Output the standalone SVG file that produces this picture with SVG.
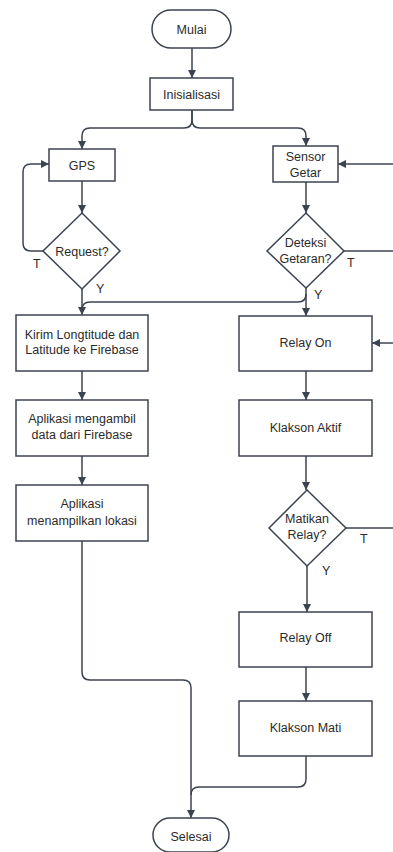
<svg xmlns="http://www.w3.org/2000/svg" width="393" height="852" viewBox="0 0 393 852">
<style>
.n{fill:#fff;stroke:#3c4350;stroke-width:1.5}
.c{fill:none;stroke:#3c4350;stroke-width:1.5}
text{font-family:"Liberation Sans",Arial,sans-serif;font-size:12.5px;fill:#2b2b2b;text-anchor:middle}
.l{text-anchor:start}
</style>
<defs>
<marker id="a" viewBox="0 0 10 10" refX="10" refY="5" markerWidth="8" markerHeight="8" markerUnits="userSpaceOnUse" orient="auto">
<path d="M0,0 L10,5 L0,10 Z" fill="#3c4350"/>
</marker>
</defs>
<rect width="393" height="852" fill="#fff"/>
<g id="connectors">
<path class="c" d="M192,48 V78" marker-end="url(#a)"/>
<path class="c" d="M192,110 V120 Q192,128 184,128 H90 Q82,128 82,136 V149" marker-end="url(#a)"/>
<path class="c" d="M192,110 V120 Q192,128 200,128 H298 Q306,128 306,136 V146" marker-end="url(#a)"/>
<path class="c" d="M82,181 V213" marker-end="url(#a)"/>
<path class="c" d="M43,251 H31 Q23,251 23,243 V172 Q23,164 31,164 H49" marker-end="url(#a)"/>
<path class="c" d="M82,289 V315" marker-end="url(#a)"/>
<path class="c" d="M306,182 V213" marker-end="url(#a)"/>
<path class="c" d="M393,164 H338" marker-end="url(#a)"/>
<path class="c" d="M344,251 H393"/>
<path class="c" d="M306,288 V316" marker-end="url(#a)"/>
<path class="c" d="M306,294 Q306,302 298,302 H90 Q82,302 82,310"/>
<path class="c" d="M82,371 V400" marker-end="url(#a)"/>
<path class="c" d="M82,456 V485" marker-end="url(#a)"/>
<path class="c" d="M393,343 H372" marker-end="url(#a)"/>
<path class="c" d="M306,371 V400" marker-end="url(#a)"/>
<path class="c" d="M306,456 V490" marker-end="url(#a)"/>
<path class="c" d="M346,528 H393"/>
<path class="c" d="M307,566 V612" marker-end="url(#a)"/>
<path class="c" d="M306,667 V701" marker-end="url(#a)"/>
<path class="c" d="M82,541 V672 Q82,680 90,680 H183 Q191,680 191,688 V818" marker-end="url(#a)"/>
<path class="c" d="M306,756 V779 Q306,787 298,787 H199 Q191,787 191,795"/>
</g>
<g id="mulai"><rect class="n" x="152" y="10" width="79" height="38" rx="19"/><text x="191.5" y="33.5">Mulai</text></g>
<g id="inisialisasi"><rect class="n" x="150" y="78" width="83" height="32"/><text x="191.5" y="98.5">Inisialisasi</text></g>
<g id="gps"><rect class="n" x="49" y="149" width="66" height="32"/><text x="82" y="169.5">GPS</text></g>
<g id="request"><polygon class="n" points="82,213 120,251 82,289 43,251"/><text x="82" y="255.5">Request?</text></g>
<g id="sensor"><rect class="n" x="273" y="146" width="65" height="36"/><text x="305.5" y="160.5">Sensor</text><text x="305.5" y="176.5">Getar</text></g>
<g id="deteksi"><polygon class="n" points="306,213 344,251 306,288 267,251"/><text x="305.5" y="247">Deteksi</text><text x="305.5" y="263">Getaran?</text></g>
<g id="kirim"><rect class="n" x="16" y="315" width="132" height="56"/><text x="82" y="338.5">Kirim Longtitude dan</text><text x="82" y="354">Latitude ke Firebase</text></g>
<g id="ambil"><rect class="n" x="16" y="400" width="132" height="56"/><text x="82" y="422.5">Aplikasi mengambil</text><text x="82" y="438.5">data dari Firebase</text></g>
<g id="tampil"><rect class="n" x="16" y="485" width="132" height="56"/><text x="82" y="507.5">Aplikasi</text><text x="82" y="524.5">menampilkan lokasi</text></g>
<g id="relayon"><rect class="n" x="239" y="316" width="133" height="55"/><text x="305.5" y="346.5">Relay On</text></g>
<g id="klaksonaktif"><rect class="n" x="239" y="400" width="133" height="56"/><text x="305.5" y="431.5">Klakson Aktif</text></g>
<g id="matikan"><polygon class="n" points="307,490 346,528 307,566 269,528"/><text x="307" y="523">Matikan</text><text x="307" y="538.5">Relay?</text></g>
<g id="relayoff"><rect class="n" x="239" y="612" width="133" height="55"/><text x="305.5" y="641.5">Relay Off</text></g>
<g id="klaksonmati"><rect class="n" x="239" y="701" width="133" height="55"/><text x="305.5" y="731.5">Klakson Mati</text></g>
<g id="selesai"><rect class="n" x="153" y="818" width="76" height="34" rx="17"/><text x="191" y="840.5">Selesai</text></g>
<g id="labels">
<text class="l" x="33" y="268">T</text>
<text class="l" x="96" y="293">Y</text>
<text class="l" x="347" y="267">T</text>
<text class="l" x="314" y="299">Y</text>
<text class="l" x="360" y="543">T</text>
<text class="l" x="322" y="575">Y</text>
</g>
</svg>
